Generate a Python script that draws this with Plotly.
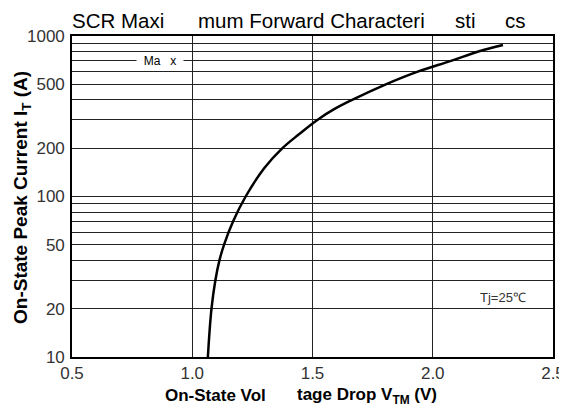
import plotly.graph_objects as go

# ---- data ----
voltage = [1.065, 1.080, 1.096, 1.113, 1.132, 1.170, 1.222, 1.299,
           1.375, 1.445, 1.520, 1.590, 1.665, 1.805, 1.9375, 2.076, 2.190, 2.292]
current = [10, 20, 30, 40, 50, 70, 100, 150,
           200, 245, 300, 350, 400, 500, 600, 700, 800, 879]

x_ticks = [0.5, 1.0, 1.5, 2.0, 2.5]
x_ticktext = ["0.5", "1.0", "1.5", "2.0", "2.5"]
y_labeled = [10, 20, 50, 100, 200, 500, 1000]
y_minor = [30, 40, 60, 70, 80, 90, 300, 400, 600, 700, 800, 900]

title_parts = ["SCR Maxi", "mum Forward Characteri", "sti", "cs"]
xtitle_parts = ["On-State Vol", "tage Drop V<sub>TM</sub> (V)"]
ytitle = "On-State Peak Current I<sub>T</sub> (A)"
max_label = "Ma   x"
tj_label = "Tj=25℃"

# ---- layout geometry (page pixels; the page body adds an 8px offset) ----
OFF = 8
W, H = 567 - OFF, 408 - OFF
L, R, T, B = 72, 553, 36, 357


def px(xp):
    return (xp - L) / (R - L)


def py(yp):
    return (B - yp) / (B - T)


fig = go.Figure()
fig.add_trace(go.Scatter(
    x=voltage, y=current, mode="lines",
    line=dict(color="black", width=2.5, shape="spline", smoothing=1.1),
    showlegend=False, hoverinfo="skip",
))

TXT = "Liberation Sans, Arial, sans-serif"

annotations = []
for text, xl in zip(title_parts, [70, 196, 453, 503]):
    annotations.append(dict(text=text, xref="paper", yref="paper",
                            x=px(xl), y=py(20), xanchor="left", yanchor="middle",
                            showarrow=False, font=dict(family=TXT, size=20.5, color="black")))
for text, xl in zip(xtitle_parts, [163, 295]):
    annotations.append(dict(text=text, xref="paper", yref="paper",
                            x=px(xl), y=py(396), xanchor="left", yanchor="middle",
                            showarrow=False,
                            font=dict(family=TXT, size=17, color="black", weight="bold")))
annotations.append(dict(text=ytitle, xref="paper", yref="paper",
                        x=px(22), y=py(198), xanchor="center", yanchor="middle",
                        textangle=-90, showarrow=False,
                        font=dict(family=TXT, size=19, color="black", weight="bold")))
annotations.append(dict(text=max_label, xref="paper", yref="y",
                        x=px(160), y=2.845, xanchor="center", yanchor="middle",
                        showarrow=False, bgcolor="white", width=46, borderpad=0,
                        font=dict(family=TXT, size=12, color="black")))
annotations.append(dict(text=tj_label, xref="paper", yref="paper",
                        x=px(478), y=py(297), xanchor="left", yanchor="middle",
                        showarrow=False, font=dict(family=TXT, size=13, color="#333")))

grid = dict(showgrid=True, gridcolor="#222", gridwidth=1.3)
fig.update_layout(
    width=W, height=H,
    margin=dict(l=L - OFF, r=W - (R - OFF), t=T - OFF, b=H - (B - OFF), autoexpand=False),
    paper_bgcolor="white", plot_bgcolor="white",
    annotations=annotations,
    xaxis=dict(
        range=[0.5, 2.5], tickvals=x_ticks, ticktext=x_ticktext,
        **grid, automargin=False,
        showline=True, mirror=True, linecolor="black", linewidth=1.6,
        zeroline=False, ticks="", ticklabelstandoff=0,
        tickfont=dict(family=TXT, size=17, color="#333"),
    ),
    yaxis=dict(
        type="log", range=[1, 3], tickvals=y_labeled,
        ticktext=[str(v) for v in y_labeled],
        **grid, automargin=False,
        minor=dict(tickvals=y_minor, showgrid=True, gridcolor="#222",
                   gridwidth=1.3, ticks=""),
        showline=True, mirror=True, linecolor="black", linewidth=1.6,
        zeroline=False, ticks="", ticklabelstandoff=2,
        tickfont=dict(family=TXT, size=17, color="#333"),
    ),
)

fig.write_html("out.html")
